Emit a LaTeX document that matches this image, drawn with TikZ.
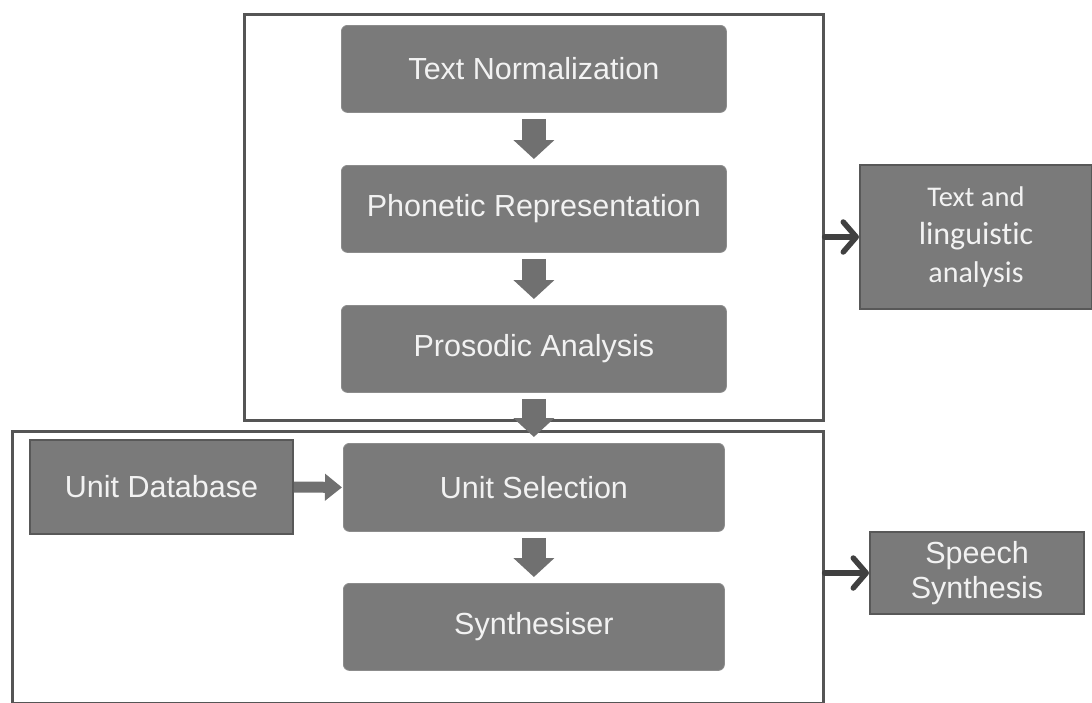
\documentclass[tikz,border=0pt]{standalone}
\usepackage{fontspec}
\setmainfont{Liberation Sans}
\newfontfamily\carlitofont[Ligatures=NoCommon]{Carlito}
\usetikzlibrary{arrows.meta,calc}
\definecolor{boxgray}{HTML}{7A7A7A}
\definecolor{boxedge}{HTML}{8C8C8C}
\definecolor{sideedge}{HTML}{585858}
\definecolor{frameedge}{HTML}{555555}
\definecolor{blockarrow}{HTML}{707070}
\definecolor{linkarrow}{HTML}{404040}
\definecolor{labeltext}{HTML}{F2F2F2}
\begin{document}
\begin{tikzpicture}[x=1pt,y=-1pt,
  stage/.style={fill=boxgray,draw=boxedge,line width=0.8pt,rounded corners=6pt,
    minimum width=385pt,minimum height=87pt,inner sep=0pt,anchor=north west,
    text=labeltext,font=\fontsize{30.5}{35}\selectfont},
  sidebox/.style={fill=boxgray,draw=sideedge,line width=2pt,inner sep=0pt,
    anchor=north west,text=labeltext,align=center},
  frame/.style={draw=frameedge,line width=2.6pt,inner sep=0pt,anchor=north west},
  flow/.style={draw=blockarrow,line width=24pt,
    -{Triangle[length=19pt,width=40pt,fill=blockarrow]},
    shorten <=6pt,shorten >=6pt},
  sideflow/.style={draw=blockarrow,line width=11pt,
    -{Triangle[length=17pt,width=26pt,fill=blockarrow]},
    shorten >=1pt},
  link/.style={draw=linkarrow,line width=5.5pt,line cap=round,
    -{Straight Barb[length=13pt,width=30pt,round]}}
]
\useasboundingbox (0,0) rectangle (1092,702);

% enclosing frames
\node[frame,minimum width=579pt,minimum height=406pt] (analysis) at (243,13) {};
\node[frame,minimum width=811pt,minimum height=272pt] (synthesis) at (11,430) {};

% processing stages
\node[stage] (norm)   at (341,25)  {Text Normalization};
\node[stage] (phon)   at (341,165) {Phonetic Representation};
\node[stage] (pros)   at (341,305) {Prosodic Analysis};
\node[stage,minimum width=381pt,minimum height=88pt] (select) at (343,443) {Unit Selection};
\node[stage,minimum width=381pt,minimum height=87pt] (synth)  at (343,583) {Synthesiser};

% side boxes
\node[sidebox,minimum width=263pt,minimum height=94pt,
  font=\fontsize{30.5}{35}\selectfont] (db) at (29,439) {Unit Database};
\node[sidebox,minimum width=232pt,minimum height=144pt,
  font=\carlitofont\fontsize{28}{38}\selectfont] (tla) at (859,164)
  {{\fontsize{28.5}{38}\selectfont Text and}\\
   {\fontsize{32}{38}\selectfont linguistic}\\
   {\fontsize{30}{38}\selectfont analysis}};
\node[sidebox,minimum width=214pt,minimum height=82pt,
  font=\fontsize{30.5}{35}\selectfont] (speech) at (869,531) {Speech\\Synthesis};

% flow between stages
\draw[flow] (norm.south)   -- (phon.north);
\draw[flow] (phon.south)   -- (pros.north);
\draw[flow] (pros.south)   -- (select.north);
\draw[flow] (select.south) -- (synth.north);
\draw[sideflow] (db.east) -- (select.west);

% frame outputs
\draw[link] (analysis.east |- tla.west) -- (tla.west);
\draw[link] (synthesis.east |- speech.west) -- (speech.west);
\end{tikzpicture}
\end{document}
